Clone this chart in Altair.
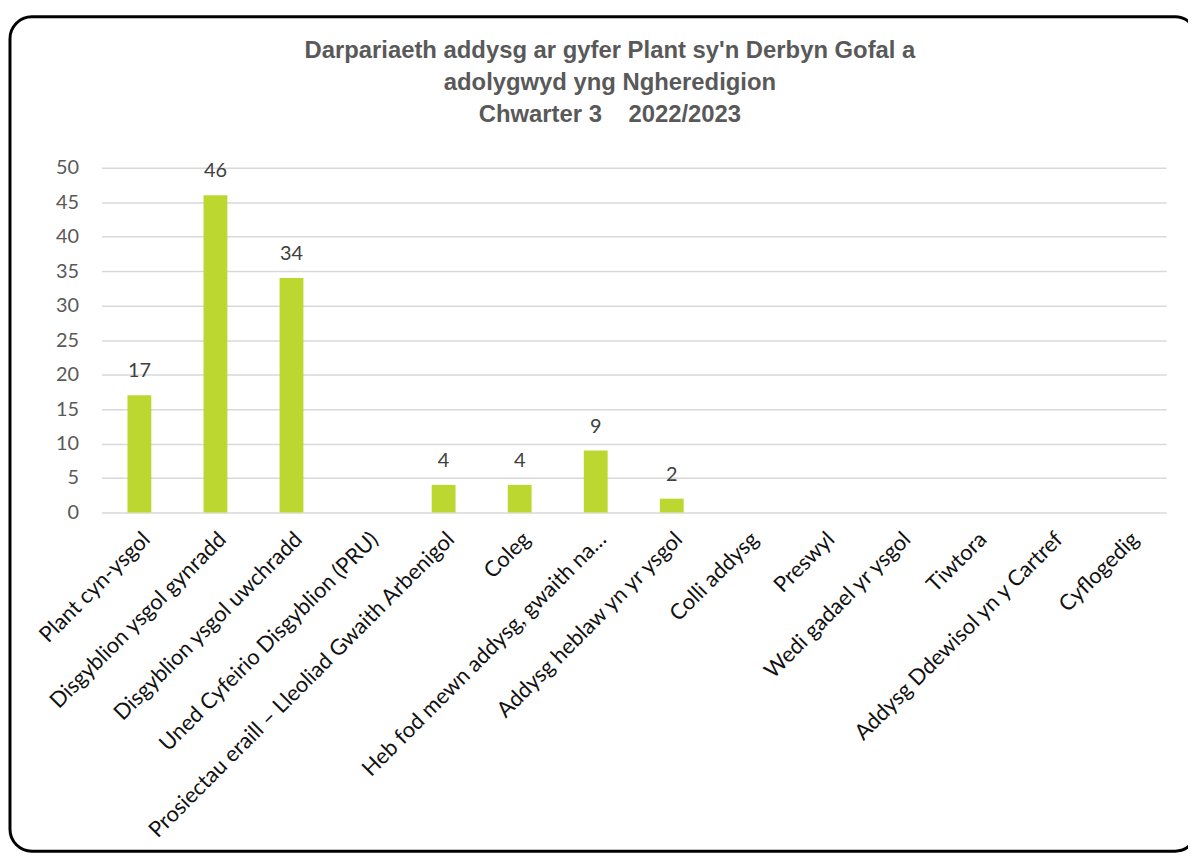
import altair as alt
import pandas as pd

categories = [
    "Plant cyn-ysgol",
    "Disgyblion ysgol gynradd",
    "Disgyblion ysgol uwchradd",
    "Uned Cyfeirio Disgyblion (PRU)",
    "Prosiectau eraill – Lleoliad Gwaith Arbenigol",
    "Coleg",
    "Heb fod mewn addysg, gwaith na…",
    "Addysg heblaw yn yr ysgol",
    "Colli addysg",
    "Preswyl",
    "Wedi gadael yr ysgol",
    "Tiwtora",
    "Addysg Ddewisol yn y Cartref",
    "Cyflogedig",
]
values = [17, 46, 34, 0, 4, 4, 9, 2, 0, 0, 0, 0, 0, 0]
y_ticks = [0, 5, 10, 15, 20, 25, 30, 35, 40, 45, 50]
title_lines = [
    "Darpariaeth addysg ar gyfer Plant sy'n Derbyn Gofal a",
    "adolygwyd yng Ngheredigion",
    "Chwarter 3 \u00a0\u00a0\u00a02022/2023",
]

df = pd.DataFrame({"category": categories, "value": values})

x_enc = alt.X(
    "category:N",
    sort=categories,
    title=None,
    axis=alt.Axis(
        labelAngle=-45,
        labelAlign="right",
        labelBaseline="top",
        labelPadding=16,
        labelFont="Lato",
        labelFontSize=22,
        labelColor="#111111",
        labelLimit=700,
        labelOverlap=False,
        domain=False,
        ticks=False,
        tickSize=0,
        grid=False,
    ),
)
y_enc = alt.Y(
    "value:Q",
    title=None,
    scale=alt.Scale(domain=[0, 50], nice=False),
    axis=alt.Axis(
        values=y_ticks,
        labelFont="Lato",
        labelFontSize=20,
        labelColor="#595959",
        labelPadding=23,
        labelOverlap=False,
        domain=False,
        ticks=False,
        tickSize=0,
        grid=True,
        gridColor="#D9D9D9",
        gridWidth=1.5,
    ),
)

bars = alt.Chart(df).mark_bar(size=24, color="#BDD731").encode(x=x_enc, y=y_enc)

labels = (
    alt.Chart(df)
    .transform_filter("datum.value > 0")
    .mark_text(font="Lato", fontSize=20, color="#404040", baseline="alphabetic", dy=-18)
    .encode(x=x_enc, y=y_enc, text="value:Q")
)

frame = (
    alt.Chart(pd.DataFrame({"f": [0]}))
    .mark_rect(fill="transparent", stroke="#000000", strokeWidth=3, cornerRadius=22)
    .encode(
        x=alt.value(-92),
        x2=alt.value(1103),
        y=alt.value(-152),
        y2=alt.value(688),
    )
)

chart = (
    alt.layer(frame, bars, labels)
    .properties(
        width=1072,
        height=347,
        autosize=alt.AutoSizeParams(type="none"),
        padding={"left": 94, "top": 158, "right": 22, "bottom": 343},
        background="white",
        title=alt.TitleParams(
            text=title_lines,
            font="Liberation Sans",
            fontSize=24,
            fontWeight="bold",
            color="#595959",
            lineHeight=32,
            anchor="middle",
            frame="group",
            dx=-24,
            dy=138,
            offset=26,
        ),
    )
    .configure_view(stroke="transparent")
)

chart.save("out.html", embed_options={"renderer": "svg", "actions": False})
